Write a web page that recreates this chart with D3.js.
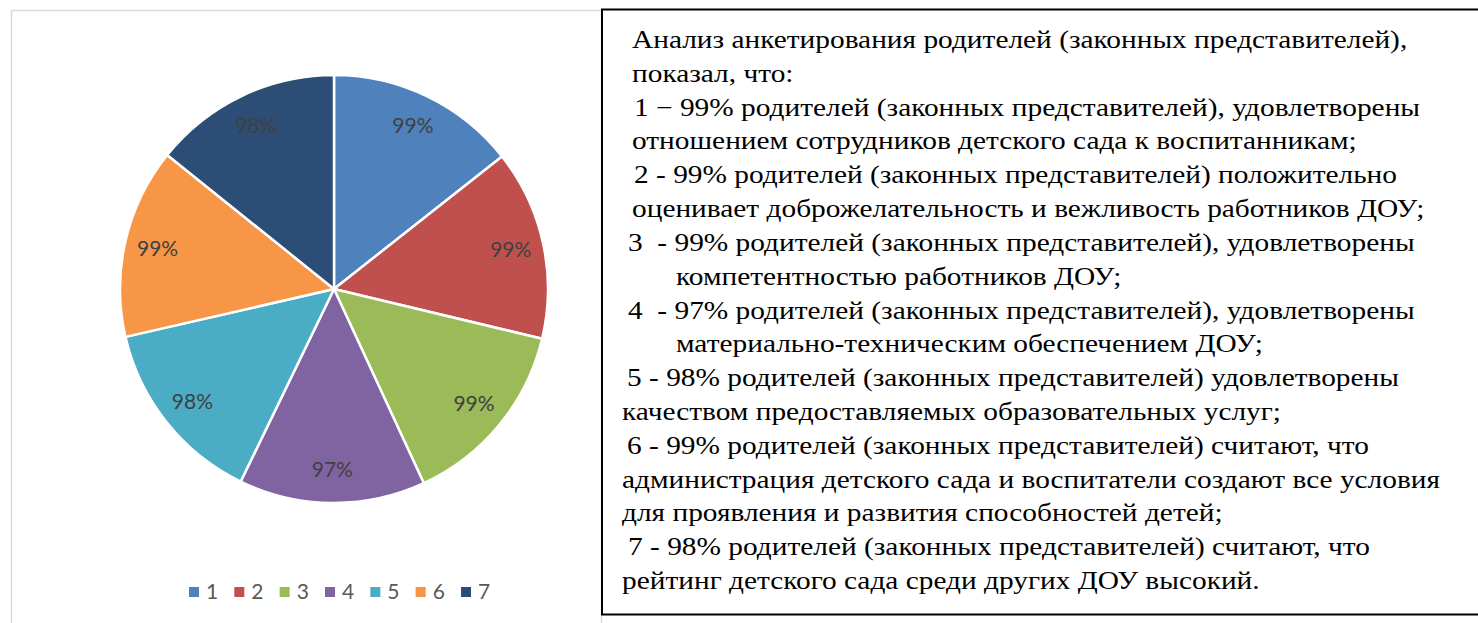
<!DOCTYPE html>
<html>
<head>
<meta charset="utf-8">
<script src="https://cdn.jsdelivr.net/npm/d3@7"></script>
<style>
  body { margin: 0; background: #fff; }
  svg { display: block; }
  .note text { font-family: "Liberation Serif", "Times New Roman", "DejaVu Serif", serif; }
</style>
</head>
<body>
<div id="chart"></div>
<script>
// data
var categories = ["1", "2", "3", "4", "5", "6", "7"];
var values = [99, 99, 99, 97, 98, 99, 98];
var colors = ["#4F81BD", "#C0504D", "#9BBB59", "#8064A2", "#4BACC6", "#F79646", "#2C4D75"];

var noteLines = [
    "Анализ анкетирования родителей (законных представителей),",
    "показал, что:",
    "1 − 99% родителей (законных представителей), удовлетворены",
    "отношением сотрудников детского сада к воспитанникам;",
    "2 - 99% родителей (законных представителей) положительно",
    "оценивает доброжелательность и вежливость работников ДОУ;",
    "3  - 99% родителей (законных представителей), удовлетворены",
    "компетентностью работников ДОУ;",
    "4  - 97% родителей (законных представителей), удовлетворены",
    "материально-техническим обеспечением ДОУ;",
    "5 - 98% родителей (законных представителей) удовлетворены",
    "качеством предоставляемых образовательных услуг;",
    "6 - 99% родителей (законных представителей) считают, что",
    "администрация детского сада и воспитатели создают все условия",
    "для проявления и развития способностей детей;",
    "7 - 98% родителей (законных представителей) считают, что",
    "рейтинг детского сада среди других ДОУ высокий."
];
// left edge of each line of the note (layout only)
var noteStart = [632, 632, 634, 632, 634, 632, 628, 676, 628, 676, 627, 622, 627, 622, 622, 628, 622];
var widestLine = 13, widestWidth = 818;

var W = 1478, H = 623;
var svg = d3.select("#chart").append("svg").attr("width", W).attr("height", H);

// chart area border (right part hidden under the note box)
svg.append("rect")
    .attr("x", 11.5).attr("y", 10.5)
    .attr("width", 590).attr("height", 700)
    .attr("fill", "#fff")
    .attr("stroke", "#d9d9d9")
    .attr("stroke-width", 1.5);

var cx = 334, cy = 289, R = 214;

var pie = d3.pie().sort(null).value(function(d) { return d; });
var arcs = pie(values);

var arc = d3.arc().innerRadius(0).outerRadius(R);
var labelArc = d3.arc().innerRadius(181).outerRadius(181);

var g = svg.append("g").attr("transform", "translate(" + cx + "," + cy + ")");

g.selectAll("path.slice")
    .data(arcs)
    .enter().append("path")
    .attr("class", "slice")
    .attr("d", arc)
    .attr("fill", function(d, i) { return colors[i]; })
    .attr("stroke", "#fff")
    .attr("stroke-width", 2.5)
    .attr("stroke-linejoin", "round");

g.selectAll("text.lbl")
    .data(arcs)
    .enter().append("text")
    .attr("class", "lbl")
    .attr("x", function(d) { return labelArc.centroid(d)[0]; })
    .attr("y", function(d) { return labelArc.centroid(d)[1]; })
    .attr("dy", "0.35em")
    .attr("text-anchor", "middle")
    .attr("font-family", "Lato, 'Open Sans', sans-serif")
    .attr("font-size", 21)
    .attr("fill", "#404040")
    .text(function(d) { return d.data + "%"; });

// legend
var legX = d3.scalePoint().domain(categories).range([189, 461]);
var leg = svg.append("g").selectAll("g")
    .data(categories)
    .enter().append("g")
    .attr("transform", function(d) { return "translate(" + legX(d) + ",587)"; });

leg.append("rect")
    .attr("width", 10).attr("height", 10)
    .attr("fill", function(d, i) { return colors[i]; });

leg.append("text")
    .attr("x", 17).attr("y", 12)
    .attr("font-family", "Lato, 'Open Sans', sans-serif")
    .attr("font-size", 21)
    .attr("fill", "#595959")
    .text(function(d) { return d; });

// note box
svg.append("rect")
    .attr("x", 602).attr("y", 9.5)
    .attr("width", 900).attr("height", 605)
    .attr("fill", "#fff")
    .attr("stroke", "#000")
    .attr("stroke-width", 2);

var lineY = d3.scaleLinear().domain([0, noteLines.length - 1]).range([48, 589]);

var note = svg.append("g").attr("class", "note").selectAll("text")
    .data(noteLines)
    .enter().append("text")
    .attr("x", function(d, i) { return noteStart[i]; })
    .attr("y", function(d, i) { return lineY(i); })
    .attr("font-size", 25)
    .attr("fill", "#000")
    .style("white-space", "pre")
    .text(function(d) { return d; });

// widen all lines by the same factor so the widest one fits the box like in the original
var natural = note.nodes().map(function(n) { return n.getComputedTextLength(); });
var k = widestWidth / natural[widestLine];
note.attr("textLength", function(d, i) { return natural[i] * k; })
    .attr("lengthAdjust", "spacingAndGlyphs");
</script>
</body>
</html>
